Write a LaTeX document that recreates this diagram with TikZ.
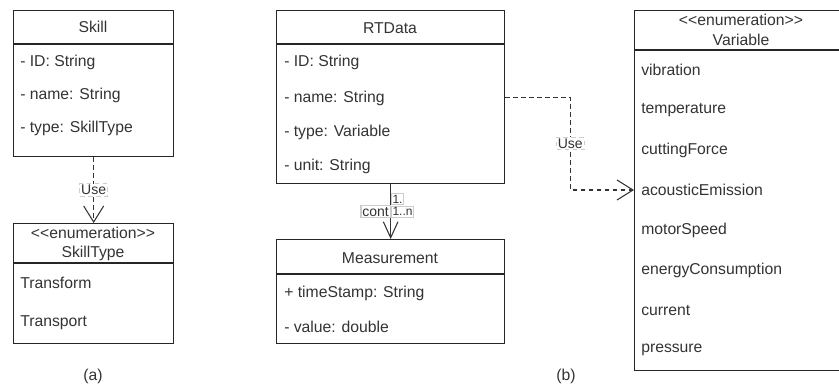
\documentclass[tikz,border=0pt]{standalone}
\usepackage{fontspec}
\setmainfont{Liberation Sans}
\usetikzlibrary{arrows.meta}
\tikzset{>={Straight Barb[length=12pt,width=15pt]}}
\tikzset{
  umlbox/.style={draw=black!85, line width=1pt, inner sep=0pt, anchor=north west},
  umlline/.style={draw=black!85, line width=1pt},
  member/.style={anchor=west, inner sep=0pt, text=black!80, font=\fontsize{11.8}{14}\selectfont},
  ctitle/.style={inner sep=0pt, text=black!80, font=\fontsize{11.8}{14}\selectfont},
  dep/.style={->, draw=black!80, line width=0.8pt, dash pattern=on 3.5pt off 2.5pt},
  assoc/.style={-{Straight Barb[length=12pt,width=11pt]}, draw=black!80, line width=0.8pt},
  lbl/.style={draw=black!20, fill=white, inner sep=1pt, text=black!80, font=\fontsize{10.5}{12}\selectfont},
  mult/.style={draw=black!20, fill=white, inner sep=1pt, text=black!80, font=\fontsize{9}{10}\selectfont}
}

\begin{document}
\begin{tikzpicture}[x=0.75pt,y=-0.75pt]
          \useasboundingbox (0,0) rectangle (839,387);
          \clip (0,0) rectangle (839,387);
          % (a)
          \node[umlbox, minimum width=120pt, minimum height=109.5pt] (skill) at (13,10) {};
          \draw[umlline] (skill.north west) ++(0,34) -- ++(160,0);
          \node[ctitle] (skill-t) at (93,27) {Skill};
          \node[member] (skill-id) at (20,62) {- ID: String};
          \node[member] (skill-name) at (20,95) {- name: String};
          \node[member] (skill-type) at (20,128) {- type: SkillType};

          \node[umlbox, minimum width=120pt, minimum height=90pt] (skilltype) at (13,223) {};
          \draw[umlline] (skilltype.north west) ++(0,40) -- ++(160,0);
          \node[ctitle] (skilltype-s) at (93,233) {<\kern0pt<enumeration>\kern0pt>};
          \node[ctitle] (skilltype-t) at (93,253) {SkillType};
          \node[member] (st-transform) at (20,283) {Transform};
          \node[member] (st-transport) at (20,323) {Transport};

          \draw[dep] (skill) -- node[lbl] (use-a) {Use} (skilltype);
          \node[ctitle] (cap-a) at (93,376) {(a)};

          % (b)
          \node[umlbox, minimum width=171pt, minimum height=129.75pt] (rtdata) at (276,10) {};
          \draw[umlline] (rtdata.north west) ++(0,34) -- ++(228,0);
          \node[ctitle] (rtdata-t) at (390,28) {RTData};
          \node[member] (rt-id) at (284,62) {- ID: String};
          \node[member] (rt-name) at (284,98) {- name: String};
          \node[member] (rt-type) at (284,132) {- type: Variable};
          \node[member] (rt-unit) at (284,166) {- unit: String};

          \node[umlbox, minimum width=171pt, minimum height=78pt] (measurement) at (276,239) {};
          \draw[umlline] (measurement.north west) ++(0,35) -- ++(228,0);
          \node[ctitle] (meas-t) at (390,258) {Measurement};
          \node[member] (meas-ts) at (284,293) {+ timeStamp: String};
          \node[member] (meas-val) at (284,327) {- value: double};

          \node[umlbox, minimum width=160.5pt, minimum height=270pt] (variable) at (634,10) {};
          \draw[umlline] (variable.north west) ++(0,40) -- ++(214,0);
          \node[ctitle] (var-s) at (741,20) {<\kern0pt<enumeration>\kern0pt>};
          \node[ctitle] (var-t) at (741,40) {Variable};
          \node[member] (var-vibration) at (641,70) {vibration};
          \node[member] (var-temperature) at (641,110) {temperature};
          \node[member] (var-force) at (641,150) {cuttingForce};
          \node[member] (var-acoustic) at (641,190) {acousticEmission};
          \node[member] (var-motor) at (641,230) {motorSpeed};
          \node[member] (var-energy) at (641,270) {energyConsumption};
          \node[member] (var-current) at (641,310) {current};
          \node[member] (var-pressure) at (641,350) {pressure};

          \draw[assoc] (rtdata) -- node[lbl, anchor=east] (cont) {cont}
            node[mult, anchor=west, pos=0.27] (mult-src) {1.}
            node[mult, anchor=west] (mult-dst) {1..n} (measurement);
          \draw[dep] (rtdata.east) -- ++(65,0) |- node[lbl, pos=0.25] (use-b) {Use} (variable.west |- var-acoustic);
          \node[ctitle] (cap-b) at (566,376) {(b)};
        \end{tikzpicture}
\end{document}
